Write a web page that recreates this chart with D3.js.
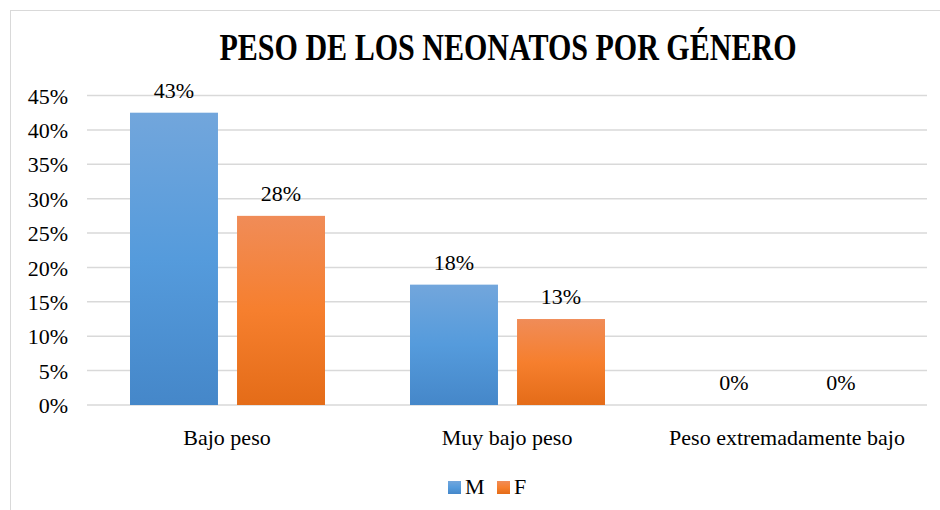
<!DOCTYPE html>
<html>
<head>
<meta charset="utf-8">
<script src="https://cdn.jsdelivr.net/npm/d3@7"></script>
<style>
  body { margin: 0; background: #fff; }
  text { font-family: "Liberation Serif", "Times New Roman", serif; fill: #000; }
</style>
</head>
<body>
<div id="chart"></div>
<script>
let categories = ['Bajo peso', 'Muy bajo peso', 'Peso extremadamente bajo'];
let series = ['M', 'F'];
let valuesM = [42.5, 17.5, 0];
let valuesF = [27.5, 12.5, 0];
let yTicks = [0, 5, 10, 15, 20, 25, 30, 35, 40, 45];

let colors = {
  M: ['#72a6dc', '#559bdc', '#4587c9'],
  F: ['#f08c58', '#f67f2e', '#e46c18']
};

let W = 940, H = 510;
let margin = {top: 95.5, left: 87, right: 13, bottom: 105};
let width = W - margin.left - margin.right;
let height = H - margin.top - margin.bottom;

let svg = d3.select('#chart')
  .append('svg')
  .attr('width', W)
  .attr('height', H);

// chart frame
svg.append('rect')
  .attr('x', 10.5).attr('y', 10.5)
  .attr('width', W).attr('height', H)
  .attr('fill', 'none')
  .attr('stroke', '#d9d9d9');

let defs = svg.append('defs');
series.forEach(s => {
  let g = defs.append('linearGradient')
    .attr('id', 'grad-' + s)
    .attr('x1', 0).attr('y1', 0).attr('x2', 0).attr('y2', 1);
  g.append('stop').attr('offset', '0%').attr('stop-color', colors[s][0]);
  g.append('stop').attr('offset', '50%').attr('stop-color', colors[s][1]);
  g.append('stop').attr('offset', '100%').attr('stop-color', colors[s][2]);
});

svg.append('text')
  .attr('x', 508)
  .attr('y', 60)
  .attr('text-anchor', 'middle')
  .attr('font-size', 38)
  .attr('font-weight', 'bold')
  .attr('textLength', 577)
  .attr('lengthAdjust', 'spacingAndGlyphs')
  .text('PESO DE LOS NEONATOS POR GÉNERO');

let g = svg.append('g')
  .attr('transform', `translate(${margin.left},${margin.top})`);

let x0 = d3.scaleBand().domain(categories).range([0, width]);
let x1 = d3.scaleBand().domain(series).range([43, 238]).paddingInner(0.178);
let y = d3.scaleLinear().domain([0, 45]).range([height, 0]);

// gridlines
g.append('g')
  .attr('class', 'grid')
  .selectAll('line')
  .data(yTicks)
  .enter()
  .append('line')
  .attr('x1', 0).attr('x2', width)
  .attr('y1', d => y(d)).attr('y2', d => y(d))
  .attr('stroke', '#d9d9d9')
  .attr('stroke-width', 1.5);

let yAxis = g.append('g')
  .attr('class', 'y axis')
  .call(d3.axisLeft(y).tickValues(yTicks).tickSize(0).tickPadding(19).tickFormat(d => d + '%'));
yAxis.select('.domain').remove();
yAxis.selectAll('text').attr('font-size', 22).attr('dy', '0.35em');

let data = categories.map((c, i) => ({cat: c, M: valuesM[i], F: valuesF[i]}));

let groups = g.selectAll('.cat')
  .data(data)
  .enter()
  .append('g')
  .attr('class', 'cat')
  .attr('transform', d => `translate(${x0(d.cat)},0)`);

groups.selectAll('rect')
  .data(d => series.map(s => ({s: s, v: d[s]})))
  .enter()
  .append('rect')
  .attr('x', d => x1(d.s))
  .attr('y', d => y(d.v))
  .attr('width', x1.bandwidth())
  .attr('height', d => height - y(d.v))
  .attr('fill', d => `url(#grad-${d.s})`);

groups.selectAll('text.lbl')
  .data(d => series.map(s => ({s: s, v: d[s]})))
  .enter()
  .append('text')
  .attr('class', 'lbl')
  .attr('x', d => x1(d.s) + x1.bandwidth() / 2)
  .attr('y', d => y(d.v) - 15)
  .attr('text-anchor', 'middle')
  .attr('font-size', 22)
  .text(d => Math.round(d.v) + '%');

let xAxis = g.append('g')
  .attr('class', 'x axis')
  .attr('transform', `translate(0,${height})`)
  .call(d3.axisBottom(x0).tickSize(0).tickPadding(24));
xAxis.select('.domain').remove();
xAxis.selectAll('text').attr('font-size', 22);

// legend
let legend = svg.append('g')
  .attr('transform', 'translate(448,481)');
let li = legend.selectAll('g')
  .data(series)
  .enter()
  .append('g')
  .attr('transform', (d, i) => `translate(${i * 49},0)`);
li.append('rect')
  .attr('width', 13).attr('height', 13)
  .attr('fill', d => `url(#grad-${d})`);
li.append('text')
  .attr('x', 17)
  .attr('y', 13)
  .attr('font-size', 22)
  .text(d => d);
</script>
</body>
</html>
